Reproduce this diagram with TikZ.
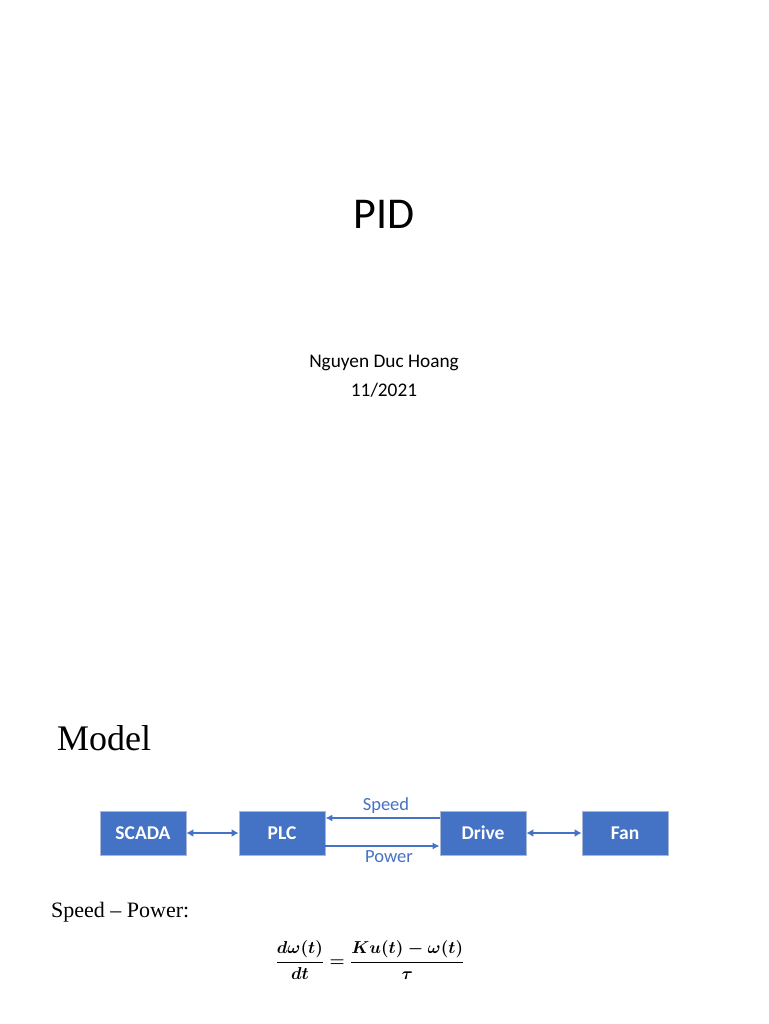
\documentclass[tikz,border=0pt]{standalone}
\usepackage{amsmath}
\usepackage{fontspec}
\setmainfont{Carlito}
\newfontfamily\timesf{Liberation Serif}
\usetikzlibrary{arrows.meta}
\definecolor{office}{HTML}{4472C4}
\definecolor{boxedge}{HTML}{A9B8D6}
\tikzset{
  blk/.style={draw=boxedge, line width=0.8pt, fill=office, minimum width=86pt, minimum height=44pt, inner sep=0pt,
    text=white, font=\fontsize{19.5}{22}\selectfont\bfseries},
  link/.style={draw=office, line width=2.2pt},
  thinlink/.style={draw=office, line width=1.4pt},
  lbl/.style={text=office, font=\fontsize{18.5}{20}\selectfont, inner sep=0pt},
  eqstyle/.style={inner sep=0pt, font=\fontsize{18.5}{22}\selectfont},
  tip/.style={Latex[length=7pt,width=7pt]}
}
\begin{document}
\begin{tikzpicture}[x=1pt,y=-1pt]
\useasboundingbox (0,0) rectangle (768,1024);
\fill[white] (0,0) rectangle (768,1024);
\node[inner sep=0pt, font=\fontsize{44}{50}\selectfont] (title) at (384,214) {PID};
\node[eqstyle] (eq) at (370,960) {$\boldsymbol{\dfrac{d\omega(t)}{dt}=\dfrac{Ku(t)-\omega(t)}{\tau}}$};
\node[inner sep=0pt, font=\fontsize{19.3}{22}\selectfont, align=center] (author) at (384,376) {Nguyen Duc Hoang\\[7pt]11/2021};
\node[inner sep=0pt, anchor=west, font=\timesf\fontsize{36}{40}\selectfont] (model) at (57,738) {Model};
\node[blk] (scada) at (143,833) {SCADA};
\node[blk] (plc) at (282,833) {PLC};
\node[blk] (drive) at (483,833) {Drive};
\node[blk] (fan) at (625,833) {Fan};
\draw[link, {Latex[length=7pt,width=8pt]}-{Latex[length=7pt,width=8pt]}] (scada.east) -- (plc.west);
\draw[link, {Latex[length=7pt,width=8pt]}-{Latex[length=7pt,width=8pt]}] (drive.east) -- (fan.west);
\draw[thinlink, -{Latex[length=7pt,width=7pt]}] ([yshift=15pt]drive.west) -- ([yshift=15pt]plc.east);
\draw[thinlink, -{Latex[length=7pt,width=7pt]}] ([yshift=-13pt]plc.east) -- ([yshift=-13pt]drive.west);
\node[lbl] (speed) at (386,806) {Speed};
\node[lbl] (power) at (389,857) {Power};
\node[inner sep=0pt, anchor=west, font=\timesf\fontsize{22}{26}\selectfont] (sp) at (51,912) {Speed \textendash{} Power:};
\end{tikzpicture}
\end{document}
